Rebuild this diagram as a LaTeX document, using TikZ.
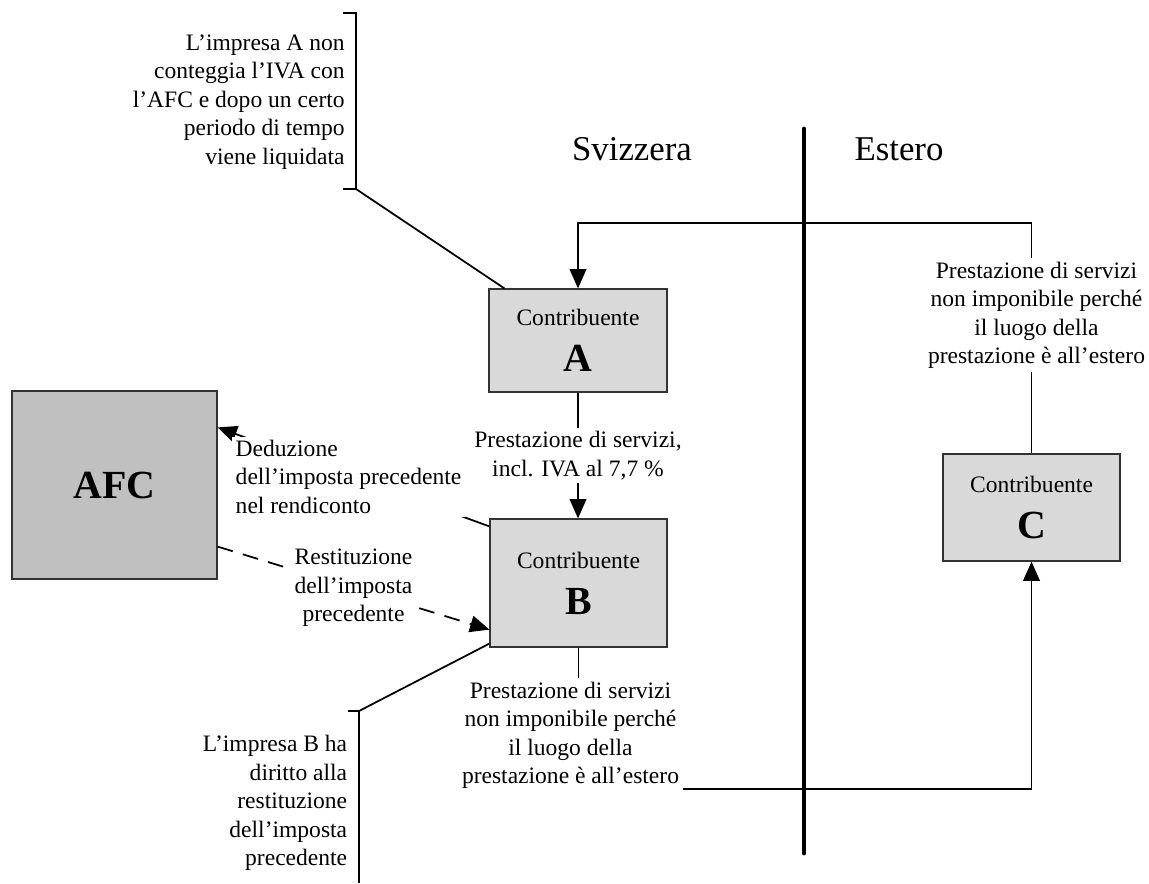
\documentclass[tikz,border=0pt]{standalone}
\usepackage{fontspec}
\setmainfont{Liberation Serif}
\usepackage{xcolor}
\usepackage{tikz}
\usetikzlibrary{arrows.meta,positioning}
\tikzset{>={Triangle[length=11pt,width=9.5pt]}}
\definecolor{boxgray}{RGB}{217,217,217}
\definecolor{afcgray}{RGB}{192,192,192}
\newcommand{\txt}{\fontsize{13.4}{16.2}\selectfont}
\newcommand{\ltr}{\fontsize{22.7}{24}\selectfont\bfseries}
\newcommand{\ctb}[1]{Contribuente\\[10pt]{\ltr #1}}

\begin{document}
\begin{tikzpicture}[x=0.02cm, y=-0.02cm,
              box/.style={draw=black!80, line width=0.7pt, fill=boxgray, align=center, font=\txt, inner sep=0pt},
              lbl/.style={fill=white, align=center, font=\txt, inner sep=2pt},
              note/.style={align=right, font=\txt, inner sep=0pt},
              conn/.style={line width=1pt, black},
              head/.style={font=\fontsize{19.8}{22}\selectfont},
             ]
\useasboundingbox (0,0) rectangle (1149,883);
\node[box, minimum width=3.56cm, minimum height=2.06cm] (A) at (578,340.5) {\ctb{A}};
\node[box, minimum width=3.54cm, minimum height=2.56cm] (B) at (578.5,583) {\ctb{B}};
\node[box, minimum width=3.54cm, minimum height=2.14cm] (C) at (1031.5,507.5) {\ctb{C}};
\node[box, fill=afcgray, minimum width=4.1cm, minimum height=3.76cm, font=\ltr] (AFC) at (114.5,485) {AFC};
\node[head] (ch) at (632,149) {Svizzera};
\node[head] (ext) at (899,149) {Estero};
\draw[line width=2.8pt, line cap=round] (804,129) -- (804,853);
\coordinate (topturn) at (1031.5,223);
\coordinate (botturn) at (578.5,789);
\draw[conn,->] (C.north) -- node[lbl, pos=0.6, xshift=0.1cm] (lblCA) {Prestazione di servizi\\non imponibile perché\\il luogo della\\prestazione è all'estero} (topturn) -| (A.north);
\draw[conn,->] (A.south) -- node[lbl] (lblAB) {Prestazione di servizi,\\incl. IVA al 7,7~\%} (A.south |- B.north);
\draw[conn,->] (B.south) -- node[lbl, pos=0.62, xshift=-0.16cm] (lblBC) {Prestazione di servizi\\non imponibile perché\\il luogo della\\prestazione è all'estero} (botturn) -| (C.south);
\draw[conn,->] ([yshift=-0.16cm]B.north west) -- node[lbl, align=left, xshift=-0.1cm] (lblded) {Deduzione\\dell'imposta precedente\\nel rendiconto} ([yshift=-0.74cm]AFC.north east);
\draw[conn,->,dash pattern=on 9pt off 6pt] ([yshift=0.66cm]AFC.south east) -- node[lbl] (lblres) {Restituzione\\dell'imposta\\precedente} ([yshift=0.36cm]B.south west);
\draw[conn] (343,13) -- (356,13) -- (356,189) -- (343,189);
\coordinate (brA) at (356,189);
\draw[conn] (brA) -- ([xshift=0.32cm]A.north west);
\node[note, anchor=east] (noteA) at (345,102) {L'impresa A non\\conteggia l'IVA con\\l'AFC e dopo un certo\\periodo di tempo\\viene liquidata};
\draw[conn] (347.5,711) -- (359,711) -- (359,883);
\coordinate (brB) at (359,711);
\draw[conn] (brB) -- ([yshift=0.08cm]B.south west);
\node[note, anchor=east] (noteB) at (347.5,803) {L'impresa B ha\\diritto alla\\restituzione\\dell'imposta\\precedente};
\end{tikzpicture}
\end{document}
